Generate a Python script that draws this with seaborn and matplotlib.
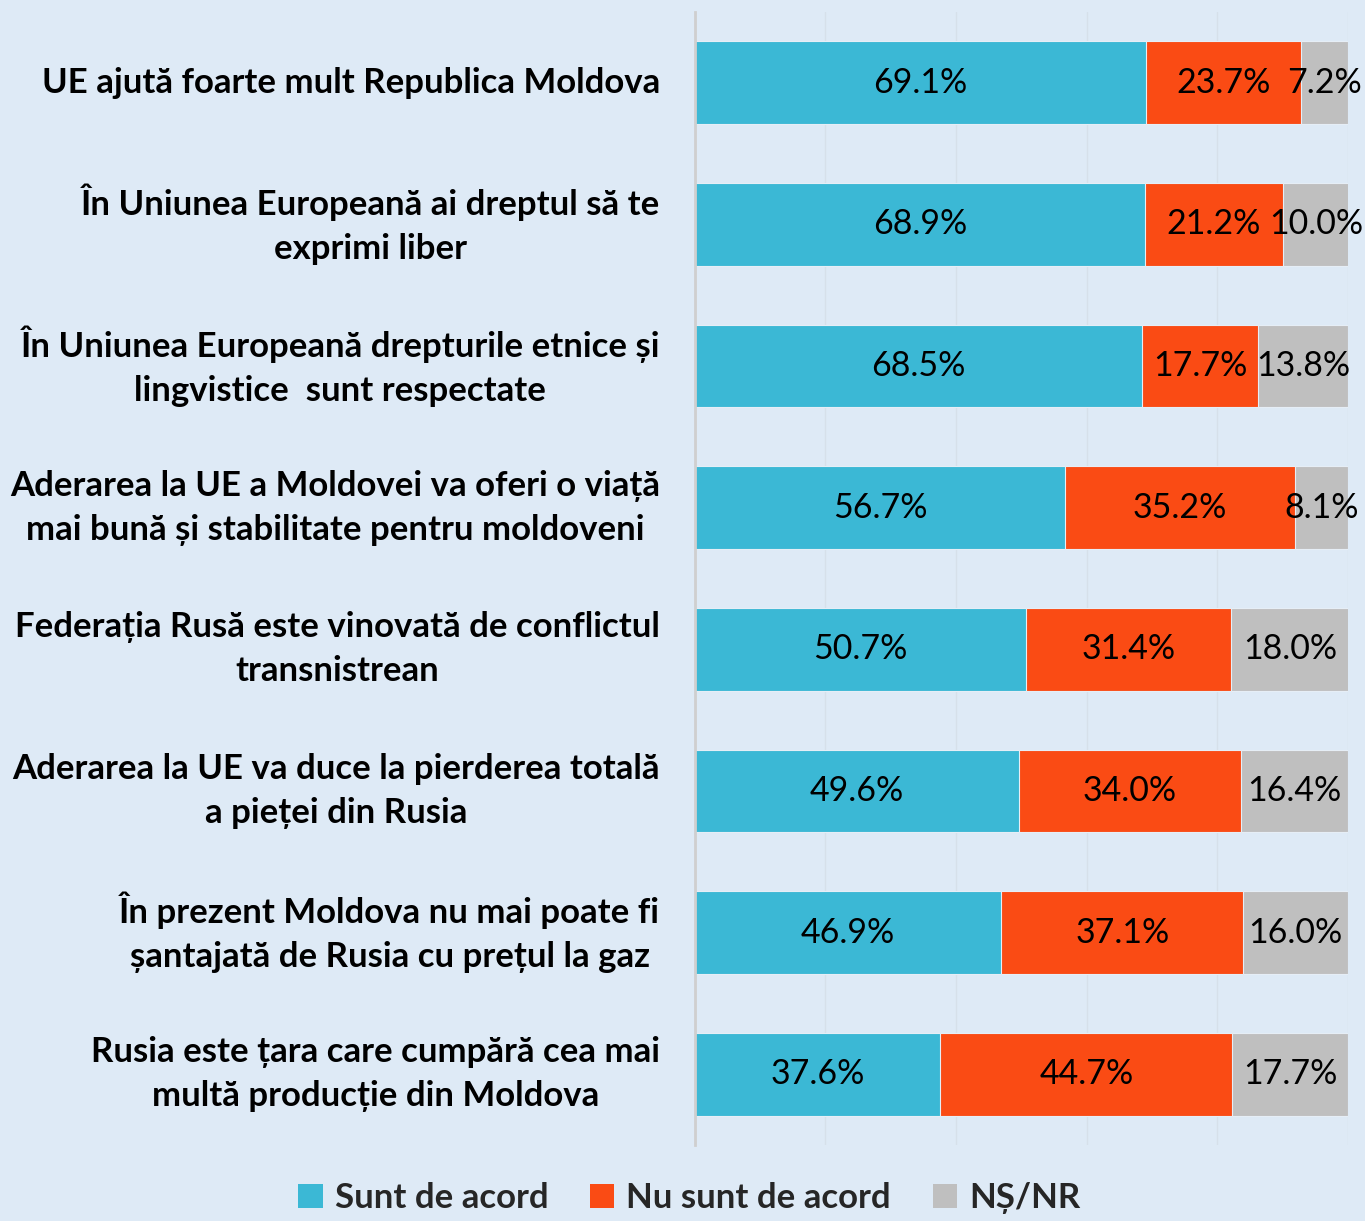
import matplotlib
matplotlib.use("Agg")
import matplotlib.pyplot as plt
from matplotlib.patches import Patch
import numpy as np
import pandas as pd
import seaborn as sns

categories = [
    "UE ajută foarte mult Republica Moldova",
    "În Uniunea Europeană ai dreptul să te\nexprimi liber",
    "În Uniunea Europeană drepturile etnice și\nlingvistice  sunt respectate",
    "Aderarea la UE a Moldovei va oferi o viață\nmai bună și stabilitate pentru moldoveni",
    "Federația Rusă este vinovată de conflictul\ntransnistrean",
    "Aderarea la UE va duce la pierderea totală\na pieței din Rusia",
    "În prezent Moldova nu mai poate fi\nșantajată de Rusia cu prețul la gaz",
    "Rusia este țara care cumpără cea mai\nmultă producție din Moldova",
]
agree = [69.1, 68.9, 68.5, 56.7, 50.7, 49.6, 46.9, 37.6]
disagree = [23.7, 21.2, 17.7, 35.2, 31.4, 34.0, 37.1, 44.7]
dk = [7.2, 10.0, 13.8, 8.1, 18.0, 16.4, 16.0, 17.7]
series_names = ["Sunt de acord", "Nu sunt de acord", "NȘ/NR"]

BG = "#DEEAF6"
COLORS = ["#3BB8D5", "#FA4B14", "#BFBFBF"]

sns.set_theme(style="white")
plt.rcParams["font.family"] = ["Lato", "DejaVu Sans"]

df = pd.DataFrame({"cat": categories, "agree": agree, "disagree": disagree, "dk": dk})
df["c1"] = df["agree"]
df["c2"] = df["agree"] + df["disagree"]
df["c3"] = df["c2"] + df["dk"]

fig = plt.figure(figsize=(13.65, 12.21), dpi=100, facecolor=BG)
ax = fig.add_axes([0.509, 0.0622, 0.4785, 0.928])
ax.set_facecolor(BG)

# stacked by layering cumulative totals, largest first
for col, color in zip(["c3", "c2", "c1"], COLORS[::-1]):
    sns.barplot(data=df, x=col, y="cat", color=color, width=0.585,
                saturation=1, edgecolor="#e6eef6", linewidth=0.8,
                ax=ax, orient="h")

ax.set_xlim(0, 100)
ax.set_ylim(7.5, -0.5)
ax.set_xlabel("")
ax.set_ylabel("")
ax.set_xticks([0, 20, 40, 60, 80, 100])
ax.set_xticklabels([])
ax.tick_params(axis="x", length=0)
ax.tick_params(axis="y", length=0, pad=25)
ax.grid(axis="x", color="#d6e0ea", linewidth=1)
ax.set_axisbelow(True)
for s in ["top", "right", "bottom"]:
    ax.spines[s].set_visible(False)
ax.spines["left"].set_color("#cfcfcf")
ax.spines["left"].set_linewidth(2)

for lab in ax.get_yticklabels():
    lab.set_fontsize(25)
    lab.set_fontweight("bold")
    lab.set_multialignment("center")
    lab.set_linespacing(1.45)
    lab.set_verticalalignment("center")
    lab.set_color("black")

# data labels
for i in range(len(categories)):
    starts = [0, df["c1"][i], df["c2"][i]]
    vals = [agree[i], disagree[i], dk[i]]
    for s, v in zip(starts, vals):
        ax.text(s + v / 2, i, f"{v:.1f}%", ha="center", va="center",
                fontsize=24.5, color="black", clip_on=False)

handles = [Patch(facecolor=c, edgecolor="none") for c in COLORS]
leg = fig.legend(handles, series_names, loc="lower center", ncol=3,
                 bbox_to_anchor=(0.505, -0.02), frameon=False,
                 handlelength=0.7, handleheight=0.7, handletextpad=0.35,
                 columnspacing=1.2, prop={"size": 25, "weight": "bold"})

fig.savefig("out.png", dpi=100, facecolor=BG)
